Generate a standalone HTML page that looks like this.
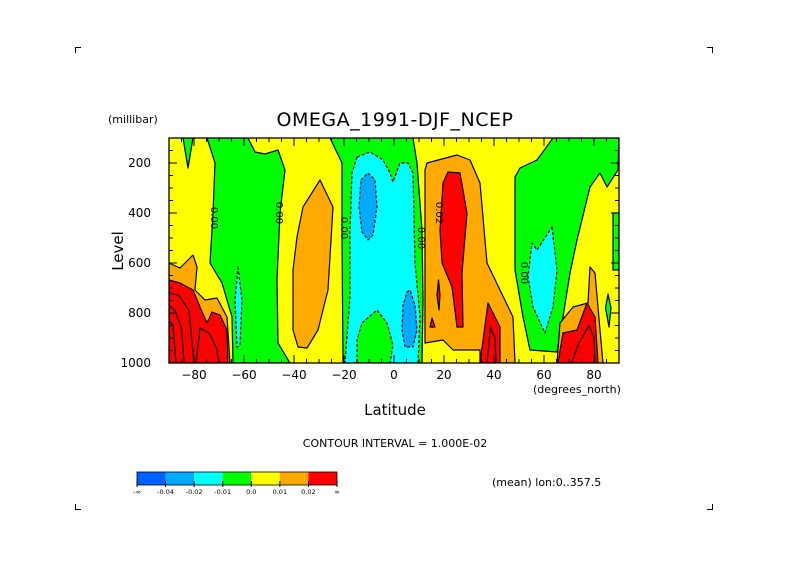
<!DOCTYPE html>
<html><head><meta charset="utf-8"><style>
html,body{margin:0;padding:0;background:#fff;}
svg text{font-family:"DejaVu Sans","Liberation Sans",sans-serif;fill:#000;}
</style></head><body>
<svg id="chart" width="789" height="558" viewBox="0 0 789 558" xmlns="http://www.w3.org/2000/svg">
<g id="corners" stroke="#000" stroke-width="1" fill="none">
<path d="M75.5 53 V47.5 H81"/><path d="M707 47.5 H712.5 V53"/><path d="M75.5 504 V509.5 H81"/><path d="M707 509.5 H712.5 V504"/>
</g>
<text x="395" y="126" font-size="19" text-anchor="middle" letter-spacing="0.5">OMEGA_1991-DJF_NCEP</text>
<text x="108" y="123" font-size="11">(millibar)</text>
<g id="fills"></g>
<g id="axes"></g>
<text transform="translate(123,251) rotate(-90)" font-size="15" text-anchor="middle">Level</text>
<text x="395" y="415" font-size="15" text-anchor="middle">Latitude</text>
<text x="533" y="393" font-size="11">(degrees_north)</text>
<text x="395" y="447" font-size="11" text-anchor="middle">CONTOUR INTERVAL = 1.000E-02</text>
<text x="492" y="486" font-size="11">(mean) lon:0..357.5</text>
<g id="colorbar"></g>
</svg>
<script>
const levelColors=["#0060ff","#00aaff","#00ffff","#00ff00","#ffff00","#ffaa00","#ff0000"];
const levelLabels=["-∞","-0.04","-0.02","-0.01","0.0","0.01","0.02","∞"];
const xTicks=[-80,-60,-40,-20,0,20,40,60,80];
const yTicks=[200,400,600,800,1000];
// contour regions: [level index, dashed, [[lat,pressure],...]]
const regionGreenTip=[[-84.4,100],[-82.4,220],[-80.4,100]];
const regionGreenWest=[[-74.8,100],[-71.6,200],[-72.4,400],[-73.6,600],[-68.8,680],[-64.8,816],[-64.4,1000],[-41.6,1000],[-46.4,920],[-46.8,668],[-45.6,400],[-43.6,228],[-46.4,148],[-51.6,164],[-55.6,156],[-58.4,100]];
const regionGreenMid=[[-25.6,100],[-20.8,200],[-20.8,496],[-20.4,1000],[11.2,1000],[11.6,748],[11.2,468],[9.2,200],[7.6,100]];
const regionGreenEast=[[63.6,100],[57.2,188],[50.4,220],[48.4,256],[48.4,628],[51.6,816],[54.4,948],[65.2,956],[67.6,816],[70.4,640],[73.2,508],[78.4,296],[82.4,240],[85.2,296],[89.6,228],[90,100]];
const regionGreenEdge=[[87.6,400],[90,400],[90,628],[87.6,628]];
const regionGreenSliver=[[85.6,724],[86.8,780],[86,856],[84.6,780]];
const regionCyanMid=[[-14.8,176],[-16.8,240],[-17.6,468],[-17.6,736],[-19.6,1000],[-14.8,1000],[-14.8,908],[-12.8,840],[-6.8,788],[-2.8,840],[-0.4,928],[-1.6,1000],[9.6,1000],[10.4,816],[8.4,600],[7.6,240],[5.6,200],[2.4,200],[-0.4,276],[-1.6,240],[-4.4,188],[-9.6,156]];
const regionCyanSliver=[[-62.4,616],[-60.8,748],[-61.6,928],[-62.8,936],[-63.6,748]];
const regionCyanEast=[[63.2,456],[65.2,628],[63.6,776],[60.4,880],[55.6,776],[53.6,656],[55.2,520],[57.2,548]];
const regionBlue1=[[-13.2,268],[-10.4,240],[-7.6,268],[-6.8,376],[-8.4,488],[-10.4,508],[-12.8,476],[-14,376]];
const regionBlue2=[[5.2,716],[6.4,708],[8.4,768],[9.2,868],[7.6,936],[4.4,936],[3.2,868],[3.6,768]];
const regionOrangeWest=[[-90,600],[-85.6,620],[-80.4,568],[-78.8,616],[-79.6,708],[-75.6,748],[-70.8,740],[-66.8,816],[-65.6,1000],[-90,1000]];
const regionOrangeMid=[[-29.6,268],[-24.4,376],[-26.4,708],[-30.4,868],[-34.8,940],[-38.4,936],[-40.4,868],[-40.4,628],[-38.8,496],[-36.4,376]];
const regionOrangeNorth=[[13.2,200],[25.2,168],[30.4,188],[34.4,280],[37.2,600],[42.4,708],[47.6,816],[48.4,1000],[34.4,1000],[34.4,948],[23.6,948],[19.6,908],[12.4,920],[12.4,228]];
const regionOrangeEast=[[65.2,1000],[66.4,840],[71.6,776],[77.6,760],[78.4,616],[80.4,640],[82.4,868],[83.6,1000]];
const regionRedWest=[[-90,668],[-85.6,680],[-80.4,708],[-77.6,776],[-74.8,840],[-72.8,796],[-69.6,808],[-66.8,868],[-66.4,1000],[-90,1000]];
const regionRedNorth=[[21.6,236],[26.4,240],[29.2,400],[27.2,640],[27.6,856],[25.2,856],[23.2,696],[19.2,600],[18.4,468],[19.6,280]];
const regionRedSpot1=[[17.8,668],[18.4,728],[18,788],[17.2,728]];
const regionRedSpot2=[[15.2,820],[16.4,856],[14.4,856]];
const regionRed40=[[34.4,1000],[37.6,760],[42.4,856],[42.4,1000]];
const regionRedEast=[[65.6,1000],[67.6,880],[73.2,868],[77.2,760],[80.4,816],[81.6,1000]];
// inner closed contours of strong positive cells (lat, pressure)
const innerWest1=[[-90,720],[-86,730],[-82,790],[-80,1000]];
const innerWest2=[[-90,770],[-87.6,790],[-85,860],[-84,1000]];
const innerWest3=[[-90,830],[-88.4,850],[-87.2,1000]];
const innerWest4=[[-79.2,1000],[-77.6,860],[-74,880],[-71,940],[-70,1000]];
const innerNorth40=[[37.2,1000],[38.6,860],[40.4,900],[40.8,1000]];
const innerEast=[[71,1000],[74,920],[78,850],[80,900],[80.4,1000]];

const regions=[
 [3,false,regionGreenTip],[3,false,regionGreenWest],[3,false,regionGreenMid],[3,false,regionGreenEast],[3,false,regionGreenEdge],[3,false,regionGreenSliver],
 [2,true,regionCyanMid],[2,true,regionCyanSliver],[2,true,regionCyanEast],
 [1,true,regionBlue1],[1,true,regionBlue2],
 [5,false,regionOrangeWest],[5,false,regionOrangeMid],[5,false,regionOrangeNorth],[5,false,regionOrangeEast],
 [6,false,regionRedWest],[6,false,regionRedNorth],[6,false,regionRedSpot1],[6,false,regionRedSpot2],[6,false,regionRed40],[6,false,regionRedEast]
];
const innerLines=[innerWest1,innerWest2,innerWest3,innerWest4,innerNorth40,innerEast];

const X0=169,X1=619,Y0=138,Y1=363;
const xScale=lat=>X0+(lat+90)/180*(X1-X0);
const yScale=p=>Y1-(1000-p)/900*(Y1-Y0);
const NS="http://www.w3.org/2000/svg";
function mk(tag,attrs,parent){const e=document.createElementNS(NS,tag);for(const k in attrs)e.setAttribute(k,attrs[k]);parent.appendChild(e);return e;}
const fills=document.getElementById('fills');
const clipDef=mk('defs',{},fills);
const cp=mk('clipPath',{id:'plotclip'},clipDef);
mk('rect',{x:X0,y:Y0,width:X1-X0,height:Y1-Y0},cp);
const g=mk('g',{'clip-path':'url(#plotclip)'},fills);
const bg=mk('rect',{x:X0,y:Y0,width:X1-X0,height:Y1-Y0,fill:levelColors[4]},g);


regions.forEach((r,i)=>{
 const pts=r[2].map(q=>xScale(q[0]).toFixed(1)+','+yScale(q[1]).toFixed(1)).join(' ');
 const poly=mk('polygon',{points:pts,fill:levelColors[r[0]],stroke:'#000','stroke-width':1.2,'stroke-dasharray':r[1]?'3,2':'none','stroke-linejoin':'round'},g);
 
 
});
innerLines.forEach((l,i)=>{
 const pts=l.map(q=>xScale(q[0]).toFixed(1)+','+yScale(q[1]).toFixed(1)).join(' ');
 const pl=mk('polyline',{points:pts,fill:'none',stroke:'#000','stroke-width':1.2},g);
 
 
});
// contour labels
const contourLabels=[[-72,420,'0.00'],[-46,400,'0.00'],[-20,460,'0.00'],[10.8,500,'0.00'],[18,400,'0.02'],[52,640,'0.00']];
contourLabels.forEach((c,i)=>{
 const t=mk('text',{transform:`translate(${xScale(c[0])},${yScale(c[1])}) rotate(90)`,'font-size':10,'text-anchor':'middle','dominant-baseline':'middle'},g);
 t.textContent=c[2];
 
 
});
// axes
const ax=document.getElementById('axes');
mk('rect',{x:X0,y:Y0,width:X1-X0,height:Y1-Y0,fill:'none',stroke:'#000','stroke-width':1.3},ax);
for(let lat=-90;lat<=90;lat+=5){
 const x=xScale(lat),len=(lat%20===0)?8:4;
 mk('line',{x1:x,y1:Y0,x2:x,y2:Y0+len,stroke:'#000'},ax);
 mk('line',{x1:x,y1:Y1,x2:x,y2:Y1-len,stroke:'#000'},ax);
}
for(let p=100;p<=1000;p+=50){
 const y=yScale(p),len=(p%200===0)?8:4;
 mk('line',{x1:X0,y1:y,x2:X0+len,y2:y,stroke:'#000'},ax);
 mk('line',{x1:X1,y1:y,x2:X1-len,y2:y,stroke:'#000'},ax);
}
xTicks.forEach(v=>{
 const t=mk('text',{x:xScale(v),y:379,'font-size':12,'text-anchor':'middle'},ax);
 t.textContent=String(v).replace('-','−');
 
 
});
yTicks.forEach(v=>{
 const t=mk('text',{x:151,y:yScale(v)+4,'font-size':12,'text-anchor':'end'},ax);
 t.textContent=v;
 
 
});
// colorbar
const cb=document.getElementById('colorbar');
const cbX=137,cbW=200/7,cbY=472,cbH=13;
levelColors.forEach((c,i)=>{
 const r=mk('rect',{x:cbX+i*cbW,y:cbY,width:cbW,height:cbH,fill:c},cb);
 
 
});
mk('rect',{x:cbX,y:cbY,width:200,height:cbH,fill:'none',stroke:'#000','stroke-width':0.8},cb);
levelLabels.forEach((l,i)=>{
 const x=cbX+i*cbW;
 mk('line',{x1:x,y1:cbY+cbH-4,x2:x,y2:cbY+cbH+2,stroke:'#000'},cb);
 const t=mk('text',{x:x,y:494,'font-size':6.5,'text-anchor':'middle'},cb);
 t.textContent=l;
 
 
});
</script>
</body></html>
